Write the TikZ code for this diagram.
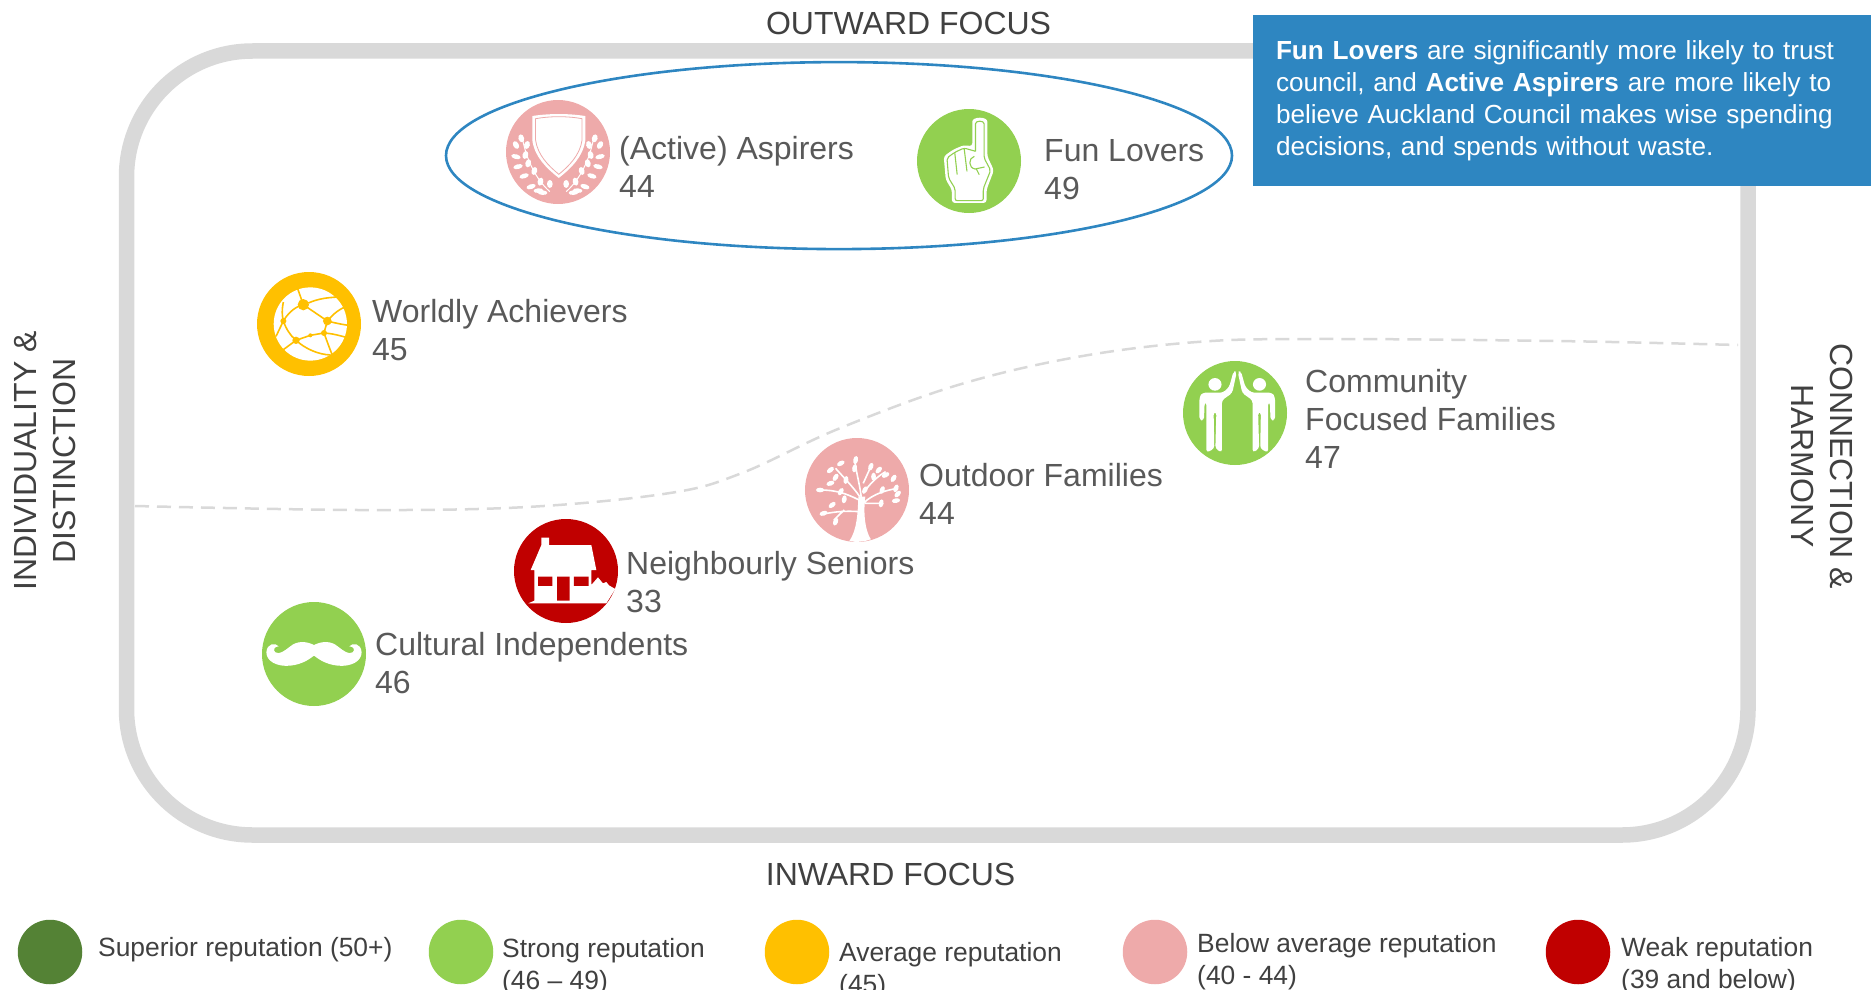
\documentclass[tikz,border=0pt]{standalone}
\usepackage{fontspec}
\usetikzlibrary{shapes.geometric}
\setmainfont{Liberation Sans}
\definecolor{ink}{HTML}{595959}
\definecolor{dark}{HTML}{404040}
\definecolor{rulegray}{HTML}{D9D9D9}
\definecolor{noteblue}{HTML}{2E86C1}
\definecolor{csup}{HTML}{548235}
\definecolor{cstrong}{HTML}{92D050}
\definecolor{cavg}{HTML}{FFC000}
\definecolor{cbelow}{HTML}{EEAAAA}
\definecolor{cweak}{HTML}{C00000}
\tikzset{
  bubble/.style={circle,fill=#1,minimum size=104pt,inner sep=0pt},
  keydot/.style={circle,fill=#1,minimum size=64.5pt,inner sep=0pt},
  lab/.style={anchor=base west,inner sep=0pt,align=left,text=ink,font=\fontsize{32}{38}\selectfont},
  keytxt/.style={anchor=base west,inner sep=0pt,align=left,text=dark,font=\fontsize{26.4}{32}\selectfont},
  axistxt/.style={inner sep=0pt,align=center,text=dark,font=\fontsize{32}{39.5}\selectfont},
}
\newcommand{\leafat}[3]{\fill[white,rotate around={#3:(#1,#2)}] (#1,#2) ellipse [x radius=12,y radius=7];}
\newcommand{\personshape}{%
  \fill[white] (1262,132) circle [x radius=19,y radius=19];
  \fill[white,rounded corners=3pt] (1225,157) -- (1217,170) -- (1217,240) -- (1230,240) -- (1232,185) -- (1237,185) -- (1237,337) -- (1260,325) -- (1258,215) -- (1266,215) -- (1263,325) -- (1282,337) -- (1282,180) -- (1312,158) -- (1325,95) -- (1316,92) -- (1303,140) -- (1285,157) -- cycle;
}
\begin{document}
\begin{tikzpicture}[x=1pt,y=-1pt]
\useasboundingbox (0,0) rectangle (1871,990);
\clip (0,0) rectangle (1871,990);
% frame
\node[draw=rulegray,line width=15.5pt,rounded corners=126pt,minimum width=1621.5pt,minimum height=784pt,inner sep=0pt] (frame) at (937.25,443) {};
% divider
\coordinate (divL) at (135,506);
\coordinate (divR) at (1738,345);
\draw[rulegray,line width=2.5pt,dash pattern=on 14pt off 8pt] plot[smooth,tension=.6] coordinates {(divL) (359,510) (527,507) (670,493) (742,473) (838,429) (958,385) (1077,357) (1197,342) (1317,339) (1556,341) (divR)};
% ellipse
\node[draw=noteblue,line width=2.6pt,ellipse,minimum width=786pt,minimum height=187pt,inner sep=0pt] (ring) at (839,155.6) {};
% box
\node[fill=noteblue,text=white,minimum width=618pt,minimum height=170.5pt,text width=572pt,inner sep=0pt,align=left,font=\fontsize{26.15}{32}\selectfont] (note) at (1562,100.7)
 {\textbf{Fun Lovers} are significantly more likely to trust\\council, and \textbf{Active Aspirers} are more likely to\\believe Auckland Council makes wise spending\\decisions, and spends without waste.};
% axis titles
\node[axistxt,anchor=base] (outward) at (908.6,35) {OUTWARD FOCUS};
\node[axistxt,anchor=base] (inward) at (890.6,885) {INWARD FOCUS};
\node[axistxt,rotate=90] (leftt) at (45,461) {INDIVIDUALITY \&\\DISTINCTION};
\node[axistxt,rotate=-90] (rightt) at (1822,466) {CONNECTION \&\\HARMONY};
% bubbles
\node[bubble=cbelow] (asp) at (558,152) {};
\node[bubble=cstrong] (fun) at (969,161) {};
\node[bubble=cavg] (wor) at (309,324) {};
\node[bubble=cstrong] (com) at (1235,413) {};
\node[bubble=cbelow] (out) at (857,490) {};
\node[bubble=cweak] (nei) at (566,571) {};
\node[bubble=cstrong] (cul) at (314,654) {};
% labels
\node[lab] (lasp) at (619,197) {(Active) Aspirers\\44};
\node[lab] (lfun) at (1044,199) {Fun Lovers\\49};
\node[lab] (lwor) at (372,360) {Worldly Achievers\\45};
\node[lab] (lcom) at (1305,468) {Community\\Focused Families\\47};
\node[lab] (lout) at (919,524) {Outdoor Families\\44};
\node[lab] (lnei) at (626,612) {Neighbourly Seniors\\33};
\node[lab] (lcul) at (375,693) {Cultural Independents\\46};
% legend
\node[keydot=csup] (k1) at (50,952) {};
\node[keydot=cstrong] (k2) at (461,952) {};
\node[keydot=cavg] (k3) at (797,952) {};
\node[keydot=cbelow] (k4) at (1155,952) {};
\node[keydot=cweak] (k5) at (1578,952) {};
\node[keytxt] (t1) at (98,956) {Superior reputation (50+)};
\node[keytxt] (t2) at (502,989) {Strong reputation\\(46 – 49)};
\node[keytxt] (t3) at (839,993) {Average reputation\\(45)};
\node[keytxt] (t4) at (1197,984) {Below average reputation\\(40 - 44)};
\node[keytxt] (t5) at (1621,988) {Weak reputation\\(39 and below)};
% shield icon
\begin{scope}[shift={(asp.center)},xscale=.408,yscale=.333,shift={(-288,-336)}]
  \fill[white] (225,228) .. controls (265,220) and (315,220) .. (355,228) -- (355,300) .. controls (350,350) and (320,385) .. (290,414) .. controls (260,385) and (230,350) .. (225,300) -- cycle;
  \draw[cbelow,line width=.8pt] (233,236) .. controls (268,228) and (312,228) .. (347,236) -- (347,300) .. controls (342,345) and (315,378) .. (290,403) .. controls (265,378) and (238,345) .. (233,300) -- cycle;
  \foreach \m in {1,-1}{
    \pgfmathsetmacro\ax{288+\m*(200-288)}\pgfmathsetmacro\bx{288+\m*(210-288)}\pgfmathsetmacro\cx{288+\m*(235-288)}\pgfmathsetmacro\dx{288+\m*(268-288)}
    \draw[white,line width=1pt] (\ax,290) .. controls (\bx,360) and (\cx,420) .. (\dx,455);
    \foreach \x/\y/\a in {198/295/-80,185/315/-70,212/315/-100,185/350/-20,208/345/-100,190/380/20,215/370/-100,205/408/25,230/393/-100,222/440/25,245/425/-100,240/452/5,268/432/-90,250/458/-5}{
      \pgfmathsetmacro\px{288+\m*(\x-288)}\pgfmathsetmacro\pa{\m*\a}
      \leafat{\px}{\y}{\pa}
    }
  }
\end{scope}
% hand icon
\begin{scope}[shift={(fun.center)},xscale=.408,yscale=.333,shift={(-1297,-364)}]
  \fill[white,rounded corners=3pt] (1305,320) -- (1305,255) .. controls (1305,230) and (1342,230) .. (1342,255) -- (1342,350) -- (1358,392) -- (1340,450) -- (1340,490) -- (1255,490) -- (1255,450) -- (1240,420) -- (1235,350) -- (1258,330) -- (1285,316) -- cycle;
  \draw[cstrong,line width=1.1pt,rounded corners=2pt] (1313,335) -- (1313,258) .. controls (1313,242) and (1334,242) .. (1334,258) -- (1334,355) -- (1350,392) -- (1332,447) -- (1332,483) -- (1263,483) -- (1263,447) -- (1247,415) -- (1243,355) -- (1262,338) -- (1285,325) -- (1313,335);
  \draw[cstrong,line width=1.1pt] (1262,338) -- (1268,405) (1285,325) -- (1292,395) (1310,350) .. controls (1295,355) and (1295,385) .. (1312,388) -- (1335,382) (1315,388) -- (1322,405);
\end{scope}
% globe icon
\begin{scope}[shift={(wor.center)},scale=.333,shift={(-207,-191)}]
  \fill[white] (211,191) circle [radius=110];
  \begin{scope}[cavg,line width=1.6pt]
    \draw (173,85) -- (190,133) (130,125) .. controls (125,150) and (126,165) .. (130,182) (190,133) .. controls (160,140) and (140,165) .. (130,182)
      (190,133) -- (262,182) (205,128) .. controls (235,115) and (260,112) .. (292,110) (262,182) .. controls (280,160) and (300,145) .. (320,138) (262,182) .. controls (285,188) and (305,192) .. (325,195)
      (252,218) .. controls (280,220) and (300,226) .. (322,232) (262,182) -- (252,218) (252,218) .. controls (262,245) and (268,262) .. (276,282)
      (168,240) -- (211,225) -- (252,218) (130,182) .. controls (138,205) and (150,225) .. (168,240) (168,240) .. controls (195,265) and (235,283) .. (272,284) (168,240) -- (130,268) (130,182) -- (108,228);
    \fill (190,133) circle [radius=17] (262,182) circle [radius=13] (252,218) circle [radius=9] (168,240) circle [radius=11] (130,182) circle [radius=9] (211,225) circle [radius=6];
  \end{scope}
\end{scope}
% house icon
\begin{scope}[shift={(nei.center)},scale=.333,shift={(-979,-933)}]
  \fill[white] (905,833) -- (928,833) -- (928,855) -- (1055,855) -- (1070,930) -- (1055,930) -- (1055,975) -- (1075,952) -- (1090,970) -- (1100,966) -- (1108,976) -- (1127,987) -- (1100,1030) -- (866,1030) -- (884,1022) -- (884,930) -- (873,930) -- (905,855) -- cycle;
  \fill[cweak] (895,950) rectangle (938,978) (1003,950) rectangle (1047,978) (952,950) rectangle (990,1022);
\end{scope}
% moustache icon
\begin{scope}[shift={(cul.center)},scale=.333,shift={(-221,-1183)}]
  \foreach \m in {1,-1}{
    \begin{scope}[shift={(221,0)},xscale=\m,shift={(-221,0)}]
      \fill[white] (221,1156) .. controls (200,1145) and (170,1142) .. (150,1160) .. controls (130,1175) and (118,1185) .. (105,1178) .. controls (98,1172) and (100,1160) .. (115,1160) .. controls (105,1148) and (80,1150) .. (78,1178) .. controls (78,1205) and (110,1222) .. (150,1218) .. controls (185,1214) and (205,1200) .. (221,1188) -- cycle;
    \end{scope}
  }
\end{scope}
% tree icon
\begin{scope}[shift={(out.center)},xscale=.345,yscale=.333,shift={(-222,-450)}]
  \fill[white] (200,603) .. controls (222,570) and (224,520) .. (226,470) -- (246,470) .. controls (240,520) and (245,570) .. (262,598) .. controls (240,606) and (220,608) .. (200,603) -- cycle;
  \draw[white,line width=1.6pt] (235,480) .. controls (232,440) and (222,410) .. (216,365) (230,470) .. controls (210,440) and (190,420) .. (160,385) (228,515) .. controls (190,512) and (160,515) .. (125,522) (228,480) .. controls (190,460) and (160,450) .. (115,450)
   (240,490) .. controls (270,460) and (310,450) .. (340,445) (240,460) .. controls (260,430) and (280,410) .. (305,395) (245,490) -- (295,490) (240,430) -- (262,380) (185,510) -- (155,540);
  \foreach \x/\y/\a in {218/360/80,175/370/30,145/390/40,160/412/60,262/380/70,285/390/50,305/405/30,328/415/60,270/410/90,335/445/70,340/462/50,295/450/70,292/490/80,335/482/10,145/430/20,115/450/0,175/455/60,190/420/80,125/520/20,160/545/70,150/495/40,215/385/80,185/478/80,245/450/60}{
    \leafat{\x}{\y}{\a}
  }
\end{scope}
% people icon
\begin{scope}[shift={(com.center)},xscale=.345,yscale=.333,shift={(-1320,-218)}]
  \personshape
  \begin{scope}[shift={(2653,0)},xscale=-1]
    \personshape
  \end{scope}
\end{scope}
\end{tikzpicture}
\end{document}
